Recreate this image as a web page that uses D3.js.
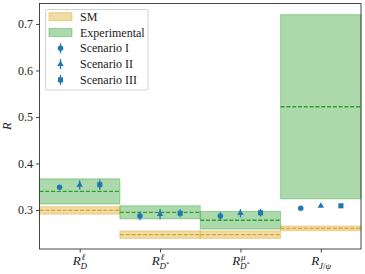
<!DOCTYPE html>
<html>
<head>
<meta charset="utf-8">
<script src="https://cdn.jsdelivr.net/npm/d3@7"></script>
<style>
  body { margin: 0; background: #fff; }
  svg { display: block; }
  svg text { font-family: "Liberation Serif", "DejaVu Serif", serif; }
</style>
</head>
<body>
<div id="chart"></div>
<script>
// observables (order matches the x axis)
const observables = ["RD", "RDs_l", "RDs_mu", "RJpsi"];

const smValue = [0.299, 0.247, 0.247, 0.2605];
const smError = [0.008, 0.008, 0.008, 0.005];

const expValue = [0.340, 0.295, 0.278, 0.522];
const expError = [0.027, 0.014, 0.019, 0.198];

const scenarioNames = ["Scenario I", "Scenario II", "Scenario III"];
const scenarioValues = [
    [0.349, 0.287, 0.287, 0.3036],
    [0.354, 0.291, 0.293, 0.3086],
    [0.3545, 0.293, 0.294, 0.309]
];
const scenarioErrors = [
    [0.003, 0.009, 0.008, 0.001],
    [0.010, 0.011, 0.009, 0.001],
    [0.011, 0.0086, 0.008, 0.001]
];
const scenarioOffsets = [-0.25, 0, 0.25];
const scenarioShapes = [d3.symbolCircle, d3.symbolTriangle, d3.symbolSquare];

const yTicks = [0.3, 0.4, 0.5, 0.6, 0.7];

const W = 365, H = 274;
const SM_COLOR = "#daa520", EXP_COLOR = "#2ca02c", PT_COLOR = "#1f77b4";

const svg = d3.select("#chart").append("svg")
    .attr("width", W).attr("height", H)
    .attr("viewBox", `0 0 ${W} ${H}`);

const x = d3.scaleLinear().domain([-0.5, 3.5]).range([39.5, 361]);
const y = d3.scaleLinear().domain([0.2155, 0.744]).range([249.3, 3.5]);

const plot = svg.append("g");

// bands
function drawBands(values, errors, color) {
    plot.selectAll(null)
        .data(values)
        .enter()
        .append("rect")
        .attr("x", (d, i) => x(i - 0.5))
        .attr("width", x(0.5) - x(-0.5))
        .attr("y", (d, i) => y(d + errors[i]))
        .attr("height", (d, i) => y(d - errors[i]) - y(d + errors[i]))
        .attr("fill", color).attr("fill-opacity", 0.4)
        .attr("stroke", color).attr("stroke-opacity", 0.4).attr("stroke-width", 1);
}
function drawCentral(values, color) {
    plot.selectAll(null)
        .data(values)
        .enter()
        .append("line")
        .attr("x1", (d, i) => x(i - 0.5))
        .attr("x2", (d, i) => x(i + 0.5))
        .attr("y1", d => y(d)).attr("y2", d => y(d))
        .attr("stroke", color).attr("stroke-width", 1.3)
        .attr("stroke-dasharray", "4,1.8");
}
drawBands(smValue, smError, SM_COLOR);
drawBands(expValue, expError, EXP_COLOR);
drawCentral(smValue, SM_COLOR);
drawCentral(expValue, EXP_COLOR);

// scenario points with error bars
function symbolPath(shape) {
    const size = shape === d3.symbolCircle ? 24 : shape === d3.symbolTriangle ? 18 : 26;
    return d3.symbol().type(shape).size(size)();
}
scenarioValues.forEach((vals, s) => {
    const g = plot.append("g");
    g.selectAll("line")
        .data(vals)
        .enter()
        .append("line")
        .attr("x1", (d, i) => x(i + scenarioOffsets[s]))
        .attr("x2", (d, i) => x(i + scenarioOffsets[s]))
        .attr("y1", (d, i) => y(d - scenarioErrors[s][i]))
        .attr("y2", (d, i) => y(d + scenarioErrors[s][i]))
        .attr("stroke", PT_COLOR).attr("stroke-width", 1.3);
    g.selectAll("path")
        .data(vals)
        .enter()
        .append("path")
        .attr("d", symbolPath(scenarioShapes[s]))
        .attr("transform", (d, i) => `translate(${x(i + scenarioOffsets[s])},${y(d)})`)
        .attr("fill", PT_COLOR);
});

// frame
svg.append("rect")
    .attr("x", 39.5).attr("y", 3.5)
    .attr("width", 361 - 39.5).attr("height", 249 - 3.5)
    .attr("fill", "none").attr("stroke", "#333").attr("stroke-width", 0.9);

// y axis
const yAxis = svg.append("g")
    .attr("transform", "translate(39.5,0)")
    .call(d3.axisLeft(y).tickValues(yTicks).tickFormat(d3.format(".1f")).tickSize(3.5).tickPadding(3));
yAxis.select(".domain").remove();
yAxis.selectAll(".tick line").attr("stroke", "#333").attr("stroke-width", 0.9);
yAxis.selectAll(".tick text")
    .attr("fill", "#222")
    .style("font-size", "12px");

svg.append("text")
    .attr("transform", `translate(11,${(3.5 + 249) / 2}) rotate(-90)`)
    .attr("text-anchor", "middle")
    .style("font-style", "italic").style("font-size", "12.5px")
    .attr("fill", "#222")
    .text("R");

// x axis ticks
const xAxis = svg.append("g")
    .attr("transform", "translate(0,249)")
    .call(d3.axisBottom(x).tickValues([0, 1, 2, 3]).tickFormat("").tickSize(3.5));
xAxis.select(".domain").remove();
xAxis.selectAll(".tick line").attr("stroke", "#333").attr("stroke-width", 0.9);

// math-like tick labels
const xLabels = [
    { sup: "\u2113", sub: [["D", "i"]] },
    { sup: "\u2113", sub: [["D", "i"], ["*", "s"]] },
    { sup: "\u03bc", sub: [["D", "i"], ["*", "s"]] },
    { sup: null, sub: [["J", "i"], ["/", "n"], ["\u03c8", "i"]] }
];
xLabels.forEach((lab, i) => {
    const g = svg.append("g").attr("fill", "#222");
    const r = g.append("text")
        .style("font-style", "italic").style("font-size", "13px")
        .attr("x", 0).attr("y", 0).text("R");
    const w = r.node().getComputedTextLength() + 0.3;
    if (lab.sup) {
        g.append("text")
            .style("font-style", "italic").style("font-size", "9px")
            .attr("x", w + 0.5).attr("y", -5.5).text(lab.sup);
    }
    const sub = g.append("text")
        .style("font-size", "9px")
        .attr("x", w - 0.5).attr("y", 3.8);
    lab.sub.forEach(([t, kind]) => {
        const ts = sub.append("tspan").text(t);
        if (kind === "i") ts.style("font-style", "italic");
        if (kind === "s") ts.style("font-size", "6.5px").attr("dy", -2.8);
    });
    const bb = g.node().getBBox();
    g.attr("transform", `translate(${x(i) - (bb.x + bb.width / 2)},265)`);
});

// legend
const leg = svg.append("g").attr("transform", "translate(45.5,9.5)");
leg.append("rect")
    .attr("width", 102.5).attr("height", 80.5).attr("rx", 2)
    .attr("fill", "#fff").attr("fill-opacity", 0.8)
    .attr("stroke", "#ccc").attr("stroke-width", 0.9);

const legendRows = [
    { label: "SM", kind: "band", color: SM_COLOR },
    { label: "Experimental", kind: "band", color: EXP_COLOR },
    ...scenarioNames.map((n, s) => ({ label: n, kind: "pt", shape: scenarioShapes[s] }))
];
legendRows.forEach((row, k) => {
    const cy = 7.2 + k * 15.8;
    const g = leg.append("g").attr("transform", `translate(0,${cy})`);
    if (row.kind === "band") {
        g.append("rect")
            .attr("x", 3.5).attr("y", -4).attr("width", 23).attr("height", 8)
            .attr("fill", row.color).attr("fill-opacity", 0.4)
            .attr("stroke", row.color).attr("stroke-opacity", 0.4).attr("stroke-width", 1);
    } else {
        g.append("line")
            .attr("x1", 15).attr("x2", 15).attr("y1", -5).attr("y2", 5)
            .attr("stroke", PT_COLOR).attr("stroke-width", 1.3);
        g.append("path")
            .attr("d", symbolPath(row.shape))
            .attr("transform", "translate(15,0)")
            .attr("fill", PT_COLOR);
    }
    g.append("text")
        .attr("x", 34.5).attr("y", 4)
        .style("font-size", "12px").attr("fill", "#222")
        .text(row.label);
});
</script>
</body>
</html>
